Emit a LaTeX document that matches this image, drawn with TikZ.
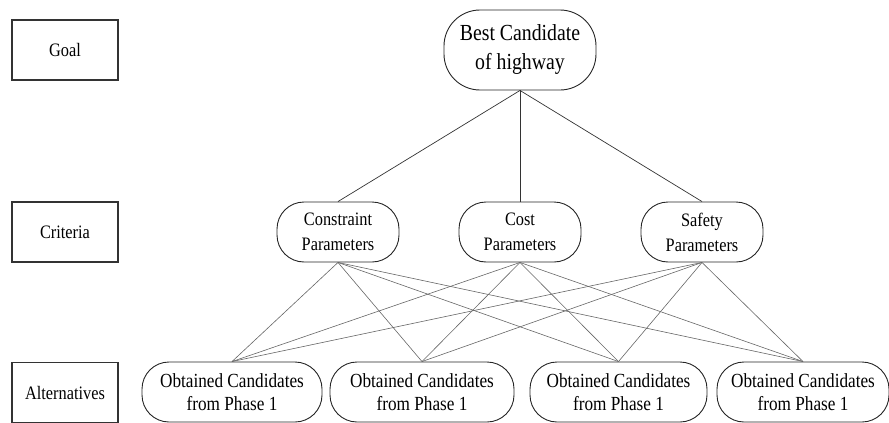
\documentclass[tikz,border=0pt]{standalone}
\usepackage{fontspec}
\setmainfont{Liberation Serif}[FakeStretch=0.86]
\begin{document}
\begin{tikzpicture}[x=1pt,y=-1pt,
  levelbox/.style={draw=black!80,line width=1.3pt,rectangle,minimum width=106pt,minimum height=60pt,inner sep=0pt,font=\fontsize{19}{23}\selectfont},
  goalnode/.style={draw=black!85,line width=0.9pt,rectangle,rounded corners=36pt,minimum width=152pt,minimum height=80pt,inner sep=0pt,align=center,font=\fontsize{23}{29}\selectfont},
  critnode/.style={draw=black!85,line width=0.9pt,rectangle,rounded corners=27pt,minimum width=122pt,minimum height=60pt,inner sep=0pt,align=center,font=\fontsize{19}{25}\selectfont},
  altnode/.style={draw=black!85,line width=0.9pt,rectangle,rounded corners=27pt,minimum height=60pt,inner sep=0pt,align=center,font=\fontsize{20}{22.5}\selectfont},
  toplink/.style={draw=black!80,line width=0.7pt},
  lowlink/.style={draw=black!60,line width=0.6pt}]
\useasboundingbox (0,0) rectangle (889,423);

% level labels
\node[levelbox] (lgoal) at (65,50) {Goal};
\node[levelbox] (lcrit) at (65,232) {Criteria};
\node[levelbox] (lalt)  at (65,392.5) {Alternatives};

% goal
\node[goalnode] (goal) at (520,50) {Best Candidate\\of highway};

% criteria
\node[critnode] (c1) at (338,232) {Constraint\\Parameters};
\node[critnode] (c2) at (520,232) {Cost\\Parameters};
\node[critnode] (c3) at (702,232) {Safety\\Parameters};

% alternatives
\node[altnode,minimum width=180pt] (a1) at (232,392) {Obtained Candidates\\from Phase 1};
\node[altnode,minimum width=184pt] (a2) at (422,392) {Obtained Candidates\\from Phase 1};
\node[altnode,minimum width=177pt] (a3) at (618.5,392) {Obtained Candidates\\from Phase 1};
\node[altnode,minimum width=172pt] (a4) at (803,392) {Obtained Candidates\\from Phase 1};

% goal to criteria
\foreach \c in {c1,c2,c3}
  \draw[toplink] (goal.south) -- (\c.north);

% criteria to alternatives
\foreach \c in {c1,c2,c3}
  \foreach \a in {a1,a2,a3,a4}
    \draw[lowlink] (\c.south) -- (\a.north);
\end{tikzpicture}
\end{document}
